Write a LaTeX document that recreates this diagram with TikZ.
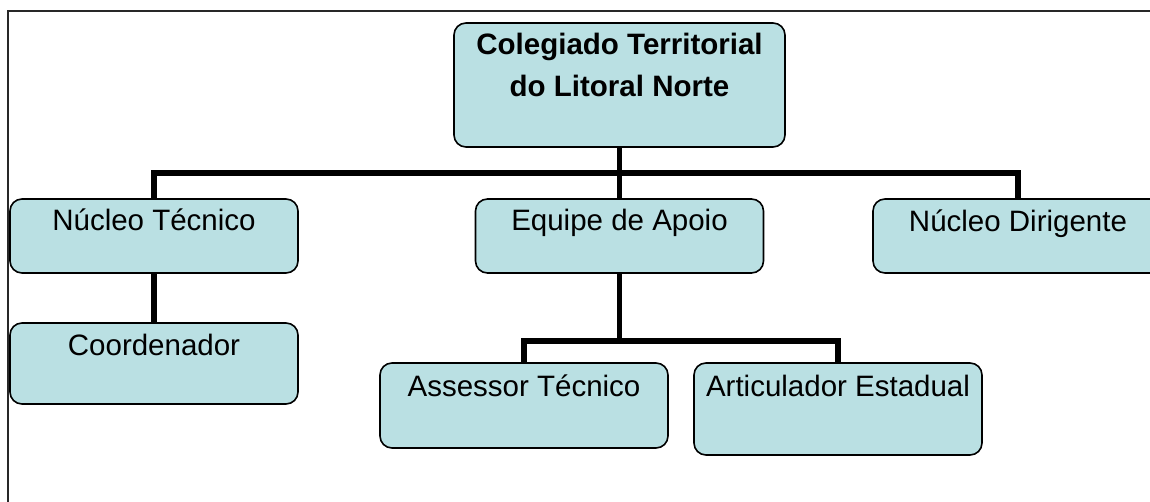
\documentclass[tikz,border=0pt]{standalone}
\usepackage{fontspec}
\setmainfont{Liberation Sans}
\definecolor{boxfill}{RGB}{186,224,227}
\definecolor{framecol}{RGB}{40,40,40}
\begin{document}
\begin{tikzpicture}[x=1pt,y=-1pt,
  box/.style={draw=black,fill=boxfill,line width=1.6pt,rounded corners=12pt,inner sep=0pt},
  lbl/.style={anchor=base,inner sep=0pt,font=\fontsize{29.5}{34}\selectfont},
  conn/.style={line width=5.5pt,black}]
\clip (0,0) rectangle (1150,502);
\useasboundingbox (0,0) rectangle (1150,502);
\draw[framecol,line width=1.5pt] (8,11) rectangle (1170,520);
% boxes
\node[box,minimum width=331pt,minimum height=124pt] (top) at (619.5,85) {};
\node[box,minimum width=288pt,minimum height=74pt] (nt) at (154,236) {};
\node[box,minimum width=288pt,minimum height=74pt] (ea) at (619.5,236) {};
\node[box,minimum width=290pt,minimum height=74pt] (nd) at (1018,236) {};
\node[box,minimum width=288pt,minimum height=81pt] (co) at (154,363.5) {};
\node[box,minimum width=288pt,minimum height=85pt] (at) at (524,405.5) {};
\node[box,minimum width=288pt,minimum height=92pt] (ae) at (838,409) {};
% connectors
\coordinate (bus1) at (619.5,173);
\coordinate (bus2) at (619.5,341);
\draw[conn] (top.south) -- (ea.north);
\draw[conn] (nt.north) -- (nt.north |- bus1) -- (nd.north |- bus1) -- (nd.north);
\draw[conn] (nt.south) -- (co.north);
\draw[conn] (ea.south) -- (bus2);
\draw[conn] (at.north) -- (at.north |- bus2) -- (ae.north |- bus2) -- (ae.north);
% labels
\node[lbl,font=\fontsize{29.5}{34}\selectfont\bfseries] (t1) at (619.5,55) {Colegiado Territorial};
\node[lbl,font=\fontsize{29.5}{34}\selectfont\bfseries] (t2) at (619.5,97) {do Litoral Norte};
\node[lbl] (lnt) at (154,231) {Núcleo Técnico};
\node[lbl] (lea) at (619.5,231) {Equipe de Apoio};
\node[lbl] (lnd) at (1018,232) {Núcleo Dirigente};
\node[lbl] (lco) at (154,355) {Coordenador};
\node[lbl] (lat) at (524,396) {Assessor Técnico};
\node[lbl] (lae) at (838,396) {Articulador Estadual};
\end{tikzpicture}
\end{document}
